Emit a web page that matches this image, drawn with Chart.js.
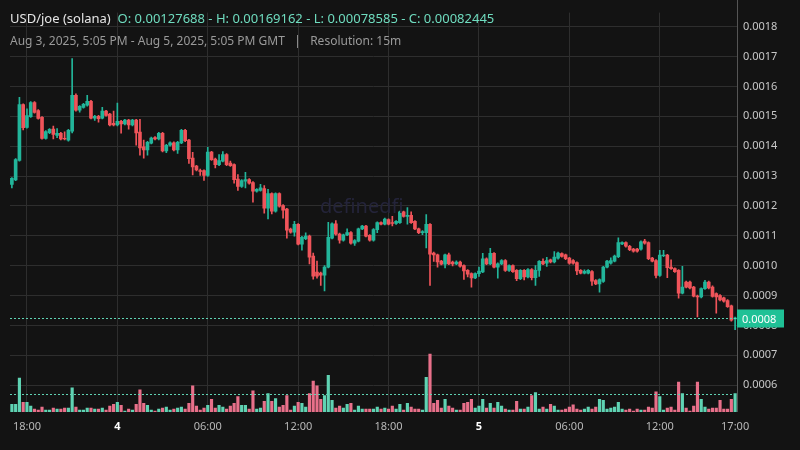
<!DOCTYPE html>
<html><head><meta charset="utf-8">
<script src="https://cdn.jsdelivr.net/npm/chart.js@4.4.1/dist/chart.umd.min.js"></script>
<style>
html,body{margin:0;padding:0;background:#131313;}
#wrap{position:relative;width:800px;height:450px;}
#t1{position:absolute;left:10px;top:9px;font:13px "Noto Sans",sans-serif;color:#e6e6e6;white-space:nowrap;}
#t1 span{color:#6fdcbf;}
#t2{position:absolute;left:10px;top:32px;font:12px "Noto Sans",sans-serif;color:#9a9a9a;white-space:nowrap;}
#wm{position:absolute;left:320px;top:192px;font:20px "Noto Sans",sans-serif;color:#24243a;}
</style></head>
<body><div id="wrap"><canvas id="c" width="800" height="450"></canvas>
<div id="wm">definedfi</div>
<div id="t1">USD/joe (solana) &nbsp;<span>O: 0.00127688 - H: 0.00169162 - L: 0.00078585 - C: 0.00082445</span></div>
<div id="t2">Aug 3, 2025, 5:05 PM - Aug 5, 2025, 5:05 PM GMT &nbsp; | &nbsp; Resolution: 15m</div>
</div>
<script>
// prices in units of 0.00001
const UNIT = 1e-5;
const open=[127.2,128.7,135.2,153.9,146.3,149.9,154.6,151.9,149.6,142.6,144.5,145.7,143.6,144.3,142.6,142,145,157,152,153,153.7,155,149.4,150,149.4,151.7,150.7,147.6,147.1,148.3,147.4,148.7,147.1,148.7,144.7,139.8,138.7,141,142.9,142.4,144.3,138.4,140.3,141.1,138.7,141.1,145.3,142,136,133.3,131.8,131.8,130.2,138,135.7,133.8,135,137.2,134.3,133.8,129,126.5,128.3,128.8,127.8,124.9,125.2,125.8,119.2,124.1,118.2,124.1,120.1,118.9,112.2,111.2,113.8,107.2,109,109.9,103.2,97.8,97.5,96.8,99.5,109.2,114,110.6,108.5,110.3,111.1,107.5,108.2,112.3,113.2,110.1,108.5,112,114.4,113.9,115.4,114.4,114.1,114.4,118,116.5,116.8,114.8,112.3,111,111,113.8,104.2,103.6,101.5,100.5,103.6,101.2,100.6,101.2,100,98.4,97.3,95.9,97.3,97.9,102.3,100.6,104.1,99.5,100.6,101.7,98.4,100,98.4,95.6,98.4,96.2,98.7,96,98.4,101.4,100.8,101.9,101.2,102.5,104,103.6,102.5,101.7,101,98.4,97.5,97.5,98,95,93.9,94.7,99.5,100.8,101.5,103,107.3,107.7,106.5,105.5,105.5,105.5,108.2,107.7,102.5,101.7,96.7,103.3,103.5,99.5,99,98.4,90.8,94.5,94.5,92.8,89.8,89.5,92.3,94.5,92.8,90.6,90,89.2,88.3,86.5,82.2];
const high=[129.5,135.8,156.3,154.2,152.5,154.9,154.9,152.2,149.9,145.2,145.9,146.7,145.9,144.6,144.8,145.6,169.3,157.5,153.6,154.3,157,155.3,150.3,150.3,153,152,151,151.7,154.4,148.6,149,149,149,149,149,142,141.6,143,143.2,144.6,144.6,140.6,141.4,141.4,141.6,145.6,145.6,142.3,137.9,133.6,132.3,132.1,139.6,138.3,136,137.2,138.2,137.5,135,134.1,130.5,128.8,131.2,129.1,128.1,125.8,127.2,126.8,125.5,124.4,124.4,124.4,120.4,119.2,112.6,114.8,114.1,109.8,111,110.2,104.2,101.5,97.8,100,114.5,114.3,115.1,110.9,110.6,112.3,111.4,108.7,112.6,113.5,113.5,110.4,112.4,114.7,114.7,115.9,115.7,116.5,115.1,118.3,118.3,119.4,118,115.1,112.6,111.7,117.1,114.1,104.5,103.9,101.8,103.9,104.2,101.5,101.6,101.5,100.3,98.7,97.6,97.6,99.5,104.1,102.6,105.8,104.4,100.9,102,102,100.3,100.3,98.7,98.7,98.7,99,99,100,101.7,102.3,102.8,102.2,104.7,104.5,104.3,103.9,102.8,102,101.3,98.7,98.6,98.7,98.3,95.3,95.6,99.8,101.8,102.6,103.5,109.3,108,108,106.8,105.8,105.8,108.3,108.8,108,102.8,102,105.1,105.1,103.8,101.9,99.3,98.7,99.8,94.8,94.8,93.1,90.1,92.6,95.1,94.8,93.2,90.9,90.3,89.5,88.6,86.8,82.8];
const low=[126,128.4,135,145.4,146,149.6,151,149,142.3,142.3,144.2,142.4,142.8,142.1,142.1,141.7,144.4,151.7,151.4,152.7,153.4,149.1,148.6,148,149.1,150,146.8,146.8,146.8,144.3,147.1,145.7,146.8,140.3,137,136,137,140.7,142.1,142.1,138.1,137.8,140,138.4,137.6,140.8,141.5,134.2,130.4,131.7,130.2,128.5,129.9,135.2,132.7,133.5,134.7,133.5,133.2,127.6,125.2,126.2,126,127.3,121.2,124.6,124.9,117.6,115.6,117.3,117.9,119.6,115.9,109.2,110.9,109.9,106.9,105.2,108.7,100.6,95.5,95.8,93.4,91.5,99.2,108.9,110.2,107.5,108.2,110,107.2,106.8,107.9,112,109.6,108.2,108.2,111,113.6,113.6,113.6,113.3,113.8,114.1,116.2,113.9,114.1,112,110.7,110.4,105.9,93.4,101.4,99.5,100.2,99.2,100.3,99.9,100.3,99.5,95.4,96.2,92.8,95.6,96.4,97.6,100.3,100.3,99.2,95.8,100.3,98.1,98.1,97.7,95,95.3,95.2,95.9,95.2,93.4,96.4,100.3,99.7,100.9,100.9,102.2,102.8,102,100.5,100.5,97,97.2,97.2,97.2,93.4,93.6,91.1,94.4,99.2,100.5,101.2,102.7,107,106.2,105,104.5,104.5,105.2,107.2,102,101.2,95.9,96.4,103,96,98.7,97.7,89.1,90.5,92.5,92.2,89.5,82.8,89.2,92,92.2,89.4,84.1,88.2,87.8,86,81.4,78.6];
const close=[129.2,135.5,153.9,146.2,150.2,154.6,151.3,149.3,142.6,144.9,145.6,143.9,144.3,142.4,142.4,145.3,157,152,153.3,154,155,149.4,150,149.2,151.7,150.3,147.1,147.1,148.3,147.4,148.7,147.1,148.7,144.4,139.4,138.7,141.3,142.7,142.4,144.3,138.4,140.3,141.1,138.7,141.3,145.3,141.8,135.8,133,132,131.5,130.2,138,135.5,133.8,135.2,137.2,133.8,133.5,128.8,126.5,128.5,128.8,127.6,124.9,125.5,126,119.2,124.1,118.2,124.1,119.9,118.6,111.9,111.2,113.8,107.2,109.5,109.9,102.8,96.5,96.5,96.8,99.5,109.5,114,110.5,108.5,110.3,111.1,107.5,108.4,112.3,113.2,109.9,108.5,112.1,114.4,113.9,115.6,113.9,114.1,114.8,118,116.5,116.8,114.4,112.3,111,111.4,113.8,103.8,103.6,101.2,100.5,103.6,100.6,100.6,101.2,99.8,98.2,97.1,95.9,97.3,98.2,102.3,100.6,104.1,99.5,100.6,101.7,98.4,100,98,95.6,98.4,96.2,98.7,96,98.4,101.4,100.6,101.7,101.2,102.9,104.2,103.1,102.3,100.8,100.8,98.2,97.5,98.1,98.4,94.8,93.9,95.3,99.5,101.5,101.7,103.2,107.7,107.7,106.5,105.3,104.8,104.8,108,107.5,102.3,101.5,96.7,103.5,103.5,99.3,99,98,90.8,92.8,92.8,92.5,89.8,89.5,92.3,94.5,92.5,89.7,89.5,88.5,88.1,86.3,81.7,82.4];
const volume=[24,24,105,30,30,18,9,6,15,6,6,12,9,9,12,12,75,15,6,6,12,12,9,9,12,6,18,24,30,21,3,9,6,24,69,27,21,6,3,9,12,15,6,9,12,15,9,27,81,18,6,12,21,39,12,21,15,9,18,27,48,21,21,9,66,9,12,33,57,33,42,15,21,51,6,18,30,27,15,57,96,81,39,51,114,36,12,18,12,24,27,6,18,9,9,9,9,15,9,12,9,18,9,24,
6,27,15,9,9,6,108,180,27,36,12,39,18,12,6,6,27,30,39,12,18,39,12,27,12,30,18,9,6,6,33,9,9,15,51,60,9,15,9,24,18,6,6,9,15,22,9,6,9,15,9,15,39,36,9,12,15,30,9,6,9,3,9,6,6,15,12,63,48,6,12,15,6,93,57,12,3,18,93,39,15,9,12,12,36,9,9,39,57];
const tickLabels={4:'18:00',28:'4',52:'06:00',76:'12:00',100:'18:00',124:'5',148:'06:00',172:'12:00',192:'17:00'};
const labels=close.map((_,i)=>i);
const GREEN='#22b59a', RED='#f0545a', VG='#5fd3b3', VR='#e8708a';
const isUp=close.map((c,i)=>c>=open[i]);
const wicks=labels.map(i=>[low[i]*UNIT,high[i]*UNIT]);
const bodies=labels.map(i=>{let a=open[i]*UNIT,b=close[i]*UNIT; if(Math.abs(a-b)<0.2*UNIT){b=a+0.2*UNIT*(isUp[i]?1:-1);} return [a,b];});
const last=close.length-1;

const overlay={id:'overlay',afterDatasetsDraw(ch){
  const c=ch.ctx,a=ch.chartArea,y=ch.scales.y,yv=ch.scales.yv;
  c.save();
  c.setLineDash([2,2]);c.lineWidth=1;c.strokeStyle='#5fd3b3';
  const py=Math.round(y.getPixelForValue(close[last]*UNIT))+0.5;
  c.beginPath();c.moveTo(a.left,py);c.lineTo(a.right,py);c.stroke();
  const vy=Math.round(yv.getPixelForValue(volume[last]))+0.5;
  c.beginPath();c.moveTo(a.left,vy);c.lineTo(a.right,vy);c.stroke();
  c.setLineDash([]);
  c.strokeStyle='#555';c.beginPath();c.moveTo(a.right+0.5,0);c.lineTo(a.right+0.5,a.bottom);c.stroke();
  c.fillStyle='#1fc196';c.fillRect(a.right,py-9,47,18);
  c.fillStyle='#fff';c.font='11px "Noto Sans"';c.textBaseline='middle';c.textAlign='left';
  c.fillText('0.0008',a.right+5,py+1);
  c.restore();
}};

new Chart(document.getElementById('c'),{
  type:'bar',
  data:{labels,datasets:[
    {data:wicks,yAxisID:'y',backgroundColor:labels.map(i=>isUp[i]?GREEN:RED),barThickness:1,grouped:false,order:2},
    {data:bodies,yAxisID:'y',backgroundColor:labels.map(i=>isUp[i]?GREEN:RED),barThickness:3,grouped:false,order:1},
    {data:volume,yAxisID:'yv',backgroundColor:labels.map(i=>isUp[i]?VG:VR),barThickness:2.5,grouped:false,order:3}
  ]},
  options:{responsive:false,animation:false,
    layout:{padding:{left:10,top:0,right:0,bottom:0}},
    plugins:{legend:{display:false},tooltip:{enabled:false}},
    scales:{
      x:{offset:true,
        grid:{offset:false,drawTicks:false,color:ctx=>(tickLabels[ctx.index]!==undefined && ctx.index!==192)?'#2e2e2e':'transparent'},
        border:{display:false},
        afterFit(s){s.height=38;},
        ticks:{autoSkip:false,maxRotation:0,padding:8,color:ctx=>(ctx.tick&&(tickLabels[ctx.index]==='4'||tickLabels[ctx.index]==='5'))?'#ffffff':'#b8b8b8',
          font:ctx=>({family:'Noto Sans',size:11,weight:(tickLabels[ctx.index]==='4'||tickLabels[ctx.index]==='5')?'bold':'normal'}),
          callback:(v,i)=>tickLabels[i]||''}},
      y:{position:'right',min:0.00051,max:0.001847,
        afterFit(s){s.width=63;},
        afterBuildTicks(s){s.ticks=[];for(let k=6;k<=18;k++)s.ticks.push({value:k/10000});},
        grid:{color:'#2e2e2e',drawTicks:false},border:{display:false},
        ticks:{color:'#c8c8c8',padding:6,font:{family:'Noto Sans',size:11},callback:v=>v.toFixed(4)}},
      yv:{display:false,min:0,max:1240}
    }},
  plugins:[overlay]
});
</script></body></html>
